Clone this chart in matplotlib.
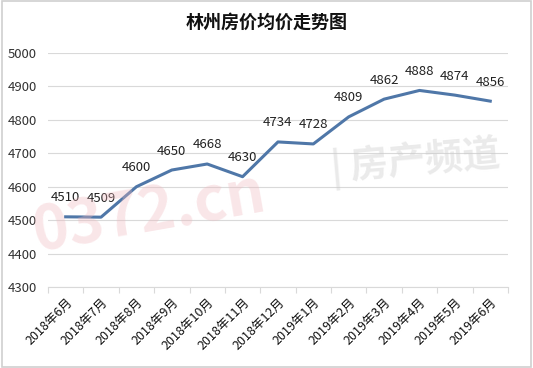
import numpy as np
import matplotlib.pyplot as plt
from matplotlib.patches import Rectangle

plt.rcParams['font.family'] = ['Noto Sans CJK SC', 'DejaVu Sans']

months = ['2018年6月', '2018年7月', '2018年8月', '2018年9月', '2018年10月',
          '2018年11月', '2018年12月', '2019年1月', '2019年2月', '2019年3月',
          '2019年4月', '2019年5月', '2019年6月']
prices = [4510, 4509, 4600, 4650, 4668, 4630, 4734, 4728, 4809, 4862, 4888, 4874, 4856]
yticks = [4300, 4400, 4500, 4600, 4700, 4800, 4900, 5000]

fig = plt.figure(figsize=(5.33, 3.68), dpi=100)
ax = fig.add_axes([0.090, 0.220, 0.863, 0.636])

# faint watermark behind everything
fig.text(0.28, 0.42, '0372.cn', fontsize=44, fontweight='bold', color='#f0b8be',
         alpha=0.35, rotation=10, ha='center', va='center', style='italic', zorder=0)
fig.text(0.78, 0.56, '| 房产频道', fontsize=27, fontweight='bold', color='#cccccc',
         alpha=0.4, rotation=5, ha='center', va='center', zorder=0)

x = np.arange(len(months))
ax.plot(x, prices, color='#4f77a8', lw=2.2, zorder=3)
for xi, v in zip(x, prices):
    ax.annotate(str(v), (xi, v), xytext=(0, 9), textcoords='offset points',
                ha='center', va='bottom', fontsize=9.5, color='#222222')

ax.set_xlim(-0.5, len(months) - 0.5)
ax.set_ylim(4300, 5000)
ax.set_yticks(yticks)
ax.set_yticklabels([str(t) for t in yticks], fontsize=9.5, color='#333333')
ax.yaxis.grid(True, color='#d9d9d9', lw=0.8)
ax.set_axisbelow(True)
ax.tick_params(axis='y', length=0, pad=8)
ax.patch.set_alpha(0)

# category ticks sit between the categories
ax.set_xticks(np.arange(-0.5, len(months)), minor=False)
ax.set_xticklabels([])
ax.set_xticks(x, minor=True)
ax.set_xticklabels(months, minor=True, rotation=45, ha='right',
                   rotation_mode='anchor', fontsize=9, color='#111111')
ax.tick_params(axis='x', which='major', length=4, color='#d9d9d9', direction='out')
ax.tick_params(axis='x', which='minor', length=0, pad=6)

for s in ['top', 'right', 'left']:
    ax.spines[s].set_visible(False)
ax.spines['bottom'].set_color('#d9d9d9')

fig.text(0.5, 0.94, '林州房价均价走势图', ha='center', va='center',
         fontsize=13, fontweight='bold', color='#111111')

fig.patches.append(Rectangle((0.003, 0.003), 0.994, 0.994, transform=fig.transFigure,
                             fill=False, ec='#d0d0d0', lw=1.2))

fig.savefig('out.png', dpi=100)
